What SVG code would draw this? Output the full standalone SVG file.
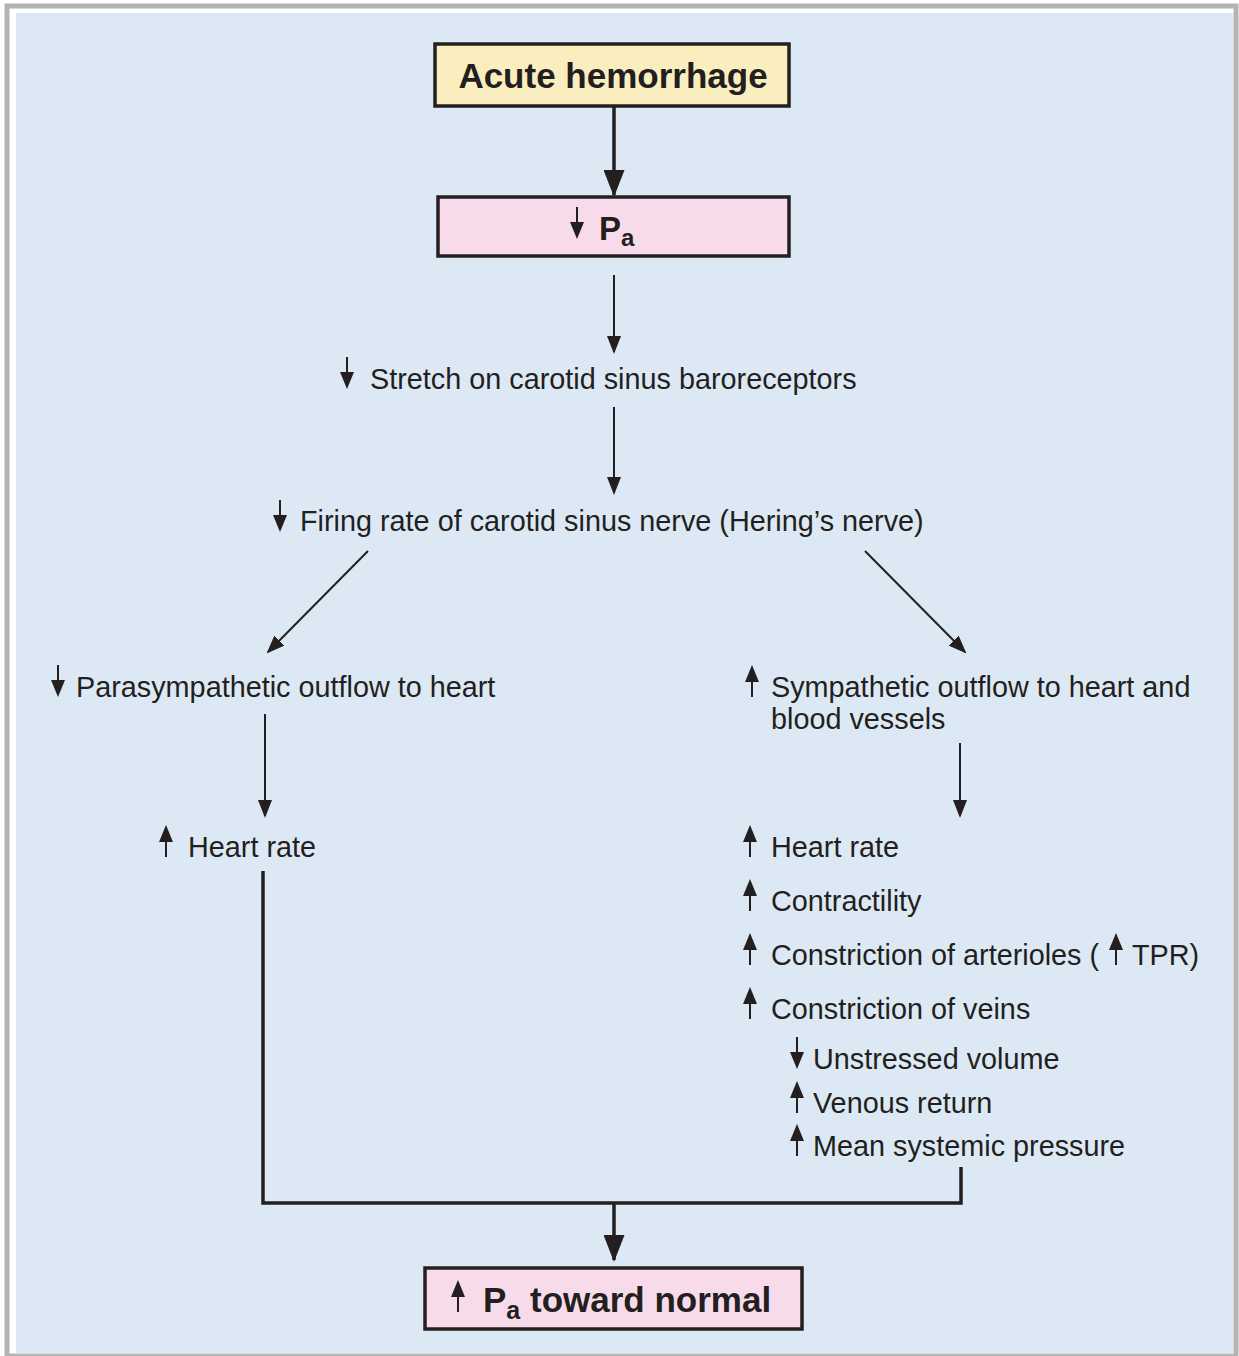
<svg xmlns="http://www.w3.org/2000/svg" width="1239" height="1356" viewBox="0 0 1239 1356">
<style>
.t{font-family:"Liberation Sans",Arial,sans-serif;font-size:28.8px;fill:#231f20}
.b{font-family:"Liberation Sans",Arial,sans-serif;font-weight:bold;fill:#231f20}
.box{stroke:#231f20;stroke-width:3.5}
.thin{stroke:#231f20;stroke-width:2;fill:none}
.thick{stroke:#231f20;stroke-width:3.5;fill:none}
</style>
<defs>
<marker id="ahs" markerWidth="18" markerHeight="14" refX="16" refY="7" orient="auto" markerUnits="userSpaceOnUse" viewBox="0 0 18 14">
<path d="M0,0 L18,7 L0,14 Z" fill="#231f20"/>
</marker>
<marker id="ahb" markerWidth="27" markerHeight="21" refX="25" refY="10.5" orient="auto" markerUnits="userSpaceOnUse" viewBox="0 0 27 21">
<path d="M0,0 L27,10.5 L0,21 Z" fill="#231f20"/>
</marker>
<g id="up"><path d="M0,0 L7,17 L-7,17 Z" fill="#231f20"/><line x1="0" y1="12" x2="0" y2="32" stroke="#231f20" stroke-width="2"/></g>
<g id="dn"><path d="M0,32 L7,15 L-7,15 Z" fill="#231f20"/><line x1="0" y1="0" x2="0" y2="20" stroke="#231f20" stroke-width="2"/></g>
</defs>
<rect x="0" y="0" width="1239" height="1356" fill="#ffffff"/>
<rect x="7" y="6" width="1229" height="1350" fill="none" stroke="#b4b4b4" stroke-width="5"/>
<rect x="16" y="13" width="1217" height="1340" fill="#dce9f5"/>

<g id="connectors">
<line class="thick" x1="614" y1="106" x2="614" y2="195" marker-end="url(#ahb)"/>
<line class="thin" x1="614" y1="275" x2="614" y2="352" marker-end="url(#ahs)"/>
<line class="thin" x1="614" y1="407" x2="614" y2="493" marker-end="url(#ahs)"/>
<line class="thin" x1="368" y1="551" x2="268" y2="652" marker-end="url(#ahs)"/>
<line class="thin" x1="865" y1="551" x2="965" y2="652" marker-end="url(#ahs)"/>
<line class="thin" x1="265" y1="714" x2="265" y2="816" marker-end="url(#ahs)"/>
<line class="thin" x1="960" y1="743" x2="960" y2="816" marker-end="url(#ahs)"/>
<polyline class="thick" points="263,871 263,1203 961,1203 961,1167"/>
<line class="thick" x1="614" y1="1203" x2="614" y2="1260" marker-end="url(#ahb)"/>
</g>

<g id="n1">
<rect class="box" x="435" y="44" width="354" height="62" fill="#fbeebe"/>
<text class="b" x="613" y="88" font-size="35" text-anchor="middle">Acute hemorrhage</text>
</g>
<g id="n2">
<rect class="box" x="438" y="197" width="351" height="59" fill="#f7dbea"/>
<use href="#dn" x="577" y="207"/>
<text class="b" x="599" y="240" font-size="33">P<tspan font-size="24" dy="6">a</tspan></text>
</g>
<g id="n3">
<use href="#dn" x="347" y="357"/>
<text class="t" x="370" y="389">Stretch on carotid sinus baroreceptors</text>
</g>
<g id="n4">
<use href="#dn" x="280" y="500"/>
<text class="t" x="300" y="531">Firing rate of carotid sinus nerve (Hering’s nerve)</text>
</g>
<g id="n5">
<use href="#dn" x="58" y="665"/>
<text class="t" x="76" y="697">Parasympathetic outflow to heart</text>
</g>
<g id="n6">
<use href="#up" x="752" y="665"/>
<text class="t" x="771" y="697">Sympathetic outflow to heart and</text>
<text class="t" x="771" y="729">blood vessels</text>
</g>
<g id="n7">
<use href="#up" x="166" y="825"/>
<text class="t" x="188" y="857">Heart rate</text>
</g>
<g id="n8">
<use href="#up" x="750" y="825"/>
<text class="t" x="771" y="857">Heart rate</text>
<use href="#up" x="750" y="879"/>
<text class="t" x="771" y="911">Contractility</text>
<use href="#up" x="750" y="933"/>
<text class="t" x="771" y="965">Constriction of arterioles (</text>
<use href="#up" x="1116" y="933"/>
<text class="t" x="1132" y="965">TPR)</text>
<use href="#up" x="750" y="987"/>
<text class="t" x="771" y="1019">Constriction of veins</text>
<use href="#dn" x="797" y="1037"/>
<text class="t" x="813" y="1069">Unstressed volume</text>
<use href="#up" x="797" y="1081"/>
<text class="t" x="813" y="1113">Venous return</text>
<use href="#up" x="797" y="1124"/>
<text class="t" x="813" y="1156">Mean systemic pressure</text>
</g>
<g id="n9">
<rect class="box" x="425" y="1268" width="377" height="61" fill="#f7dbea"/>
<use href="#up" x="458" y="1280"/>
<text class="b" x="483" y="1312" font-size="35">P<tspan font-size="25" dy="7">a</tspan><tspan dy="-7"> toward normal</tspan></text>
</g>
</svg>
